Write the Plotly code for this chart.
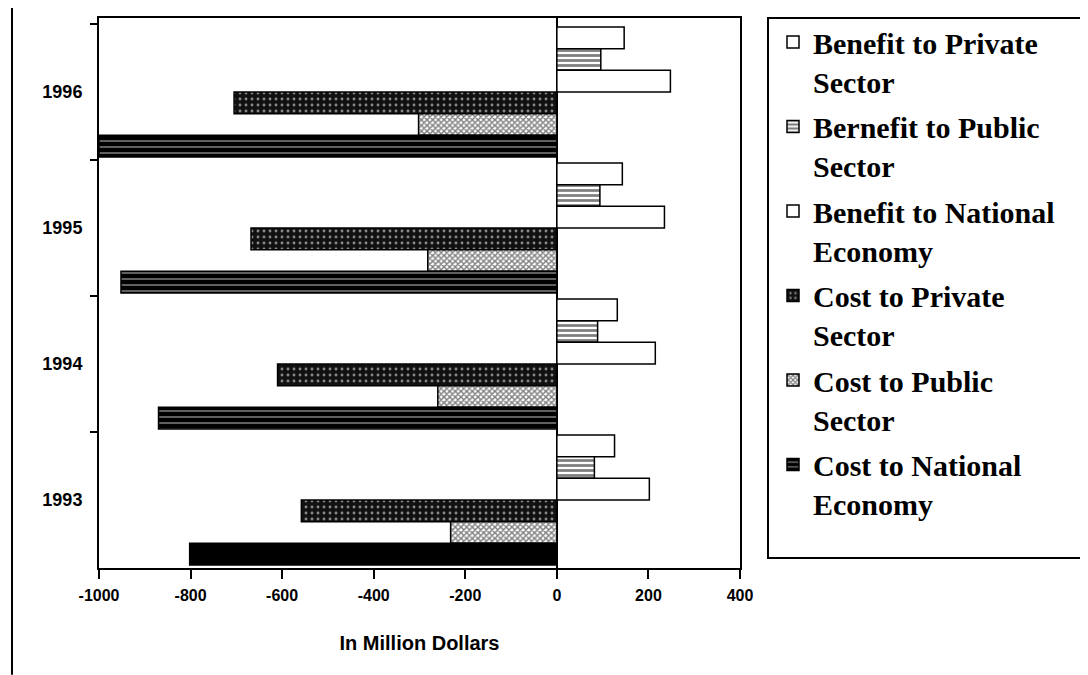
import plotly.graph_objects as go

years = ["1996", "1995", "1994", "1993"]
series_names = [
    "Benefit to Private<br>Sector",
    "Bernefit to Public<br>Sector",
    "Benefit to National<br>Economy",
    "Cost to Private<br>Sector",
    "Cost to Public<br>Sector",
    "Cost to National<br>Economy",
]
benefit_private = [147, 143, 132, 126]
benefit_public = [96, 94, 89, 82]
benefit_national = [248, 235, 215, 202]
cost_private = [-705, -668, -610, -558]
cost_public = [-302, -282, -260, -232]
cost_national = [-1000, -952, -870, -802]
x_tick_values = [-1000, -800, -600, -400, -200, 0, 200, 400]
x_tick_labels = ["-1000", "-800", "-600", "-400", "-200", "0", "200", "400"]

values = [benefit_private, benefit_public, benefit_national,
          cost_private, cost_public, cost_national]

styles = [
    dict(color="white"),
    dict(color="white", pattern=dict(shape="-", fgcolor="black", bgcolor="white", size=5, solidity=0.55)),
    dict(color="white"),
    dict(color="#111", pattern=dict(shape=".", fgcolor="white", bgcolor="#111", size=6, solidity=0.18)),
    dict(color="white", pattern=dict(shape="x", fgcolor="black", bgcolor="white", size=4, solidity=0.6)),
    dict(color="black", pattern=dict(shape=["-", "-", "-", ""], fgcolor="white", bgcolor="black", size=6, solidity=0.25)),
]

fig = go.Figure()
for i, (name, vals, st) in enumerate(zip(series_names, values, styles)):
    marker = dict(line=dict(color="black", width=1.5))
    marker.update(st)
    fig.add_trace(go.Bar(
        y=years, x=vals, orientation="h", name=name, marker=marker,
        legendgroup=f"g{i}",
    ))

# page body has an 8px margin; work in screen coordinates and shift
OFF = 8
W, H = 1088 - OFF, 675 - OFF
plot_l, plot_r, plot_t, plot_b = 99 - OFF, 740 - OFF, 17 - OFF, 568 - OFF
pw, ph = plot_r - plot_l, plot_b - plot_t

def px(x):
    return (x - OFF - plot_l) / pw

def py(y):
    return (plot_b - (y - OFF)) / ph

fig.update_layout(
    width=W, height=H,
    margin=dict(l=plot_l, r=W - plot_r, t=plot_t, b=H - plot_b, pad=0),
    paper_bgcolor="white", plot_bgcolor="white",
    barmode="group", bargap=0.045, bargroupgap=0,
    showlegend=True,
    legend=dict(
        x=px(773), y=py(16), xanchor="left", yanchor="top",
        font=dict(family="Liberation Serif", size=30, color="black", weight="bold"),
        bgcolor="rgba(0,0,0,0)", borderwidth=0,
        valign="top", itemwidth=30, tracegroupgap=3.5, maxheight=800,
    ),
    xaxis=dict(
        range=[-1000, 400], tickmode="array", tickvals=x_tick_values, ticktext=x_tick_labels,
        showgrid=False, zeroline=True, zerolinecolor="black", zerolinewidth=2,
        showline=True, linecolor="black", linewidth=2, mirror=True,
        ticks="outside", ticklen=9, tickwidth=2, tickcolor="black",
        tickfont=dict(family="Liberation Sans", size=16, color="black", weight="bold"),
        ticklabelstandoff=3,
        title=dict(text="In Million Dollars", standoff=33,
                   font=dict(family="Liberation Sans", size=20, color="black", weight="bold")),
    ),
    yaxis=dict(
        type="category", categoryorder="array", categoryarray=years,
        range=[3.5, -0.544],
        showgrid=False, zeroline=False,
        showline=True, linecolor="black", linewidth=2, mirror=True,
        ticks="outside", tickson="boundaries", ticklen=7, tickwidth=2, tickcolor="black",
        tickfont=dict(family="Liberation Sans", size=18, color="black", weight="bold"),
        ticklabelstandoff=11,
    ),
    shapes=[
        dict(type="rect", xref="paper", yref="paper",
             x0=px(768), x1=px(1082), y0=py(558), y1=py(17),
             line=dict(color="black", width=2), fillcolor="rgba(0,0,0,0)"),
        dict(type="line", xref="paper", yref="paper",
             x0=px(12), x1=px(12), y0=py(675), y1=py(0),
             line=dict(color="black", width=2)),
    ],
)

fig.write_html("out.html")
